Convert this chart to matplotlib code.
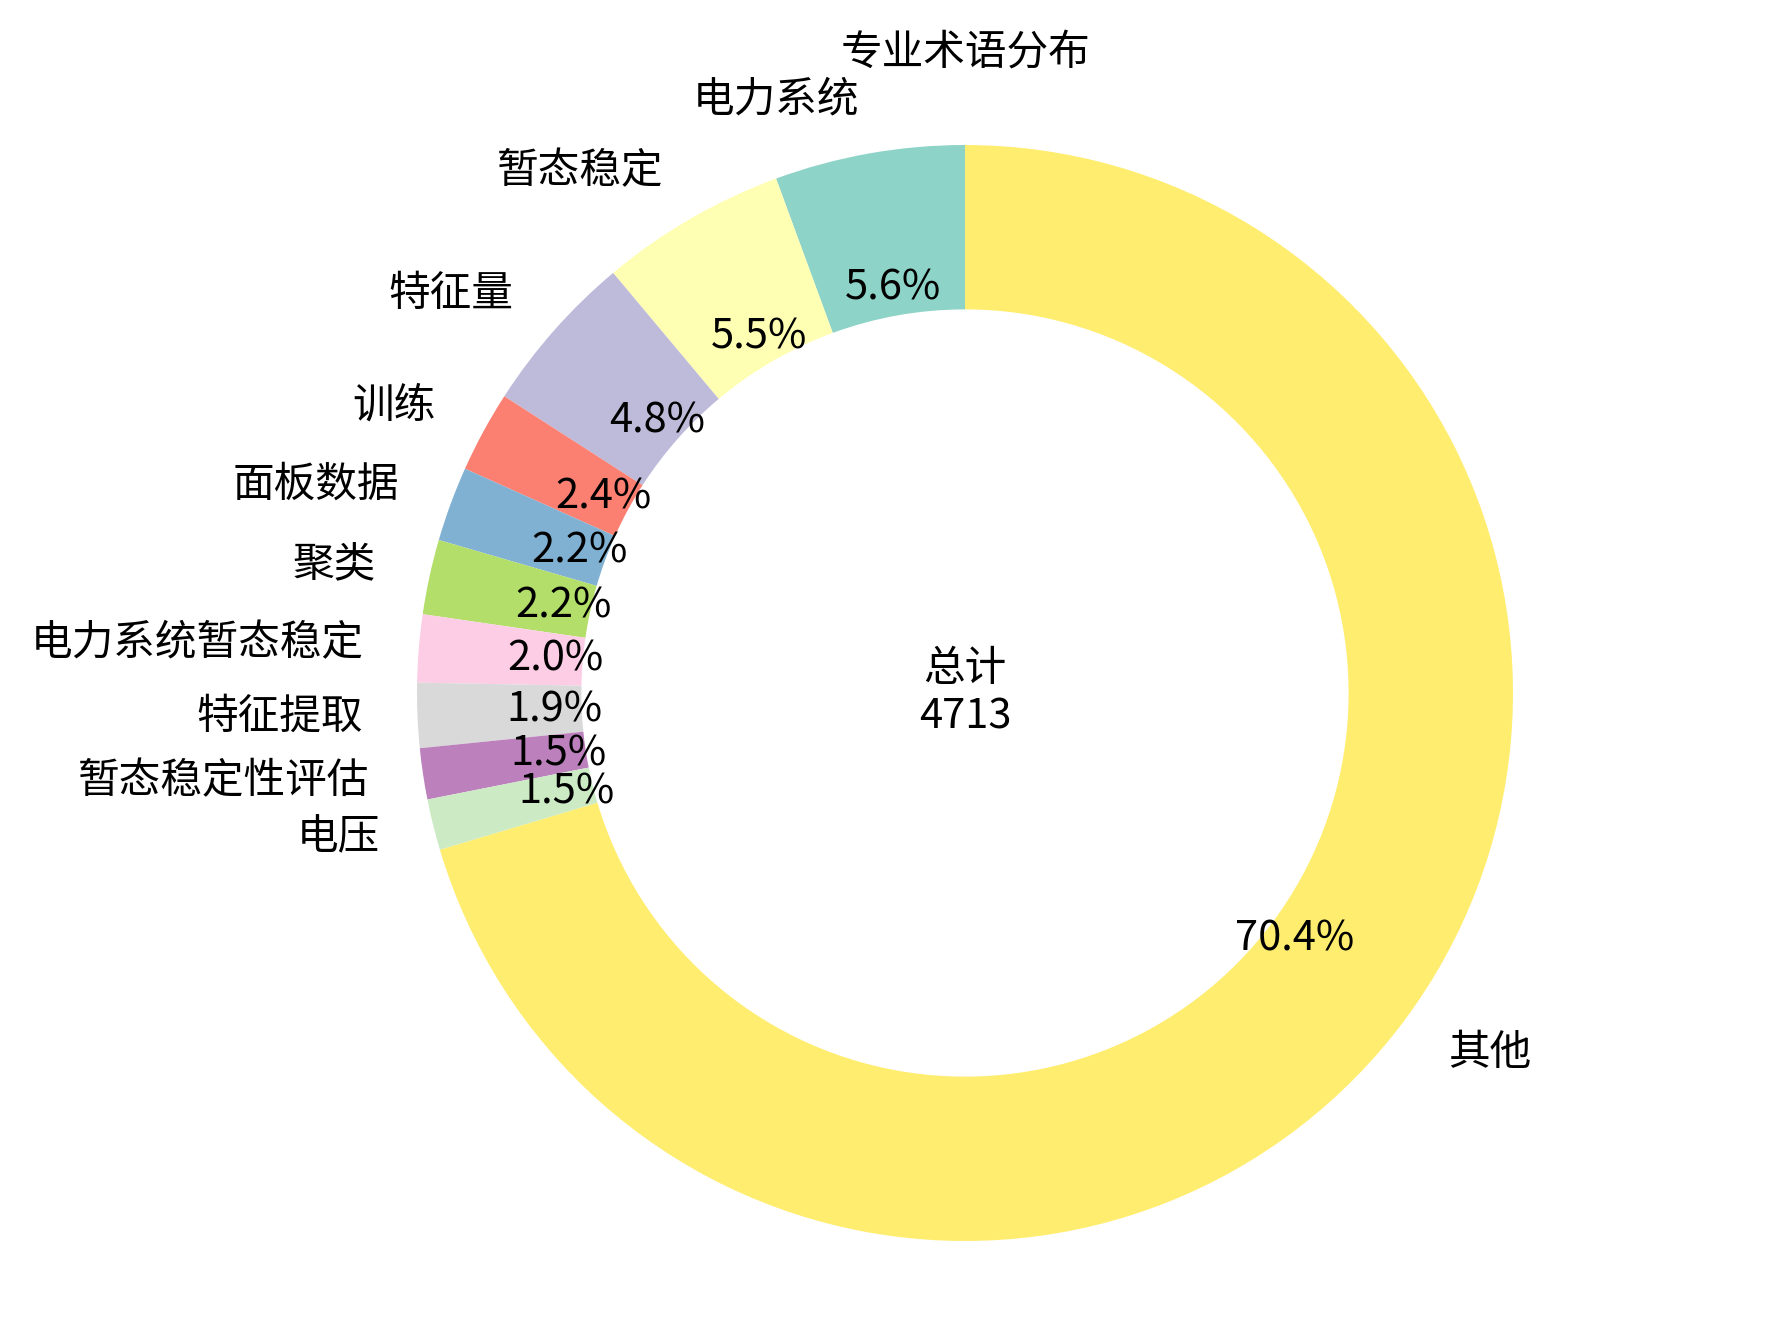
import numpy as np
import matplotlib
matplotlib.use('Agg')
from matplotlib import pyplot as plt

plt.rcParams['font.family'] = ['Noto Sans CJK SC', 'DejaVu Sans']

# 术语及出现次数
terms = ['电力系统', '暂态稳定', '特征量', '训练', '面板数据', '聚类',
         '电力系统暂态稳定', '特征提取', '暂态稳定性评估', '电压', '其他']
counts = [264, 259, 226, 113, 104, 104, 94, 90, 71, 71, 3317]

total = sum(counts)
colors = plt.cm.Set3(np.linspace(0, 1, len(counts)))

W, H, DPI = 1777, 1326, 100
fig = plt.figure(figsize=(W / DPI, H / DPI), dpi=DPI)

# 圆心与半径(像素)
cx, cy, r = 965, 693, 548
side = 2.5 * r
ax = fig.add_axes([(cx - side / 2) / W, (H - cy - side / 2) / H, side / W, side / H])

fs = 30
wedges, texts, autotexts = ax.pie(
    counts,
    labels=terms,
    colors=colors,
    autopct='%1.1f%%',
    startangle=90,
    pctdistance=0.75,
    labeldistance=1.1,
    wedgeprops=dict(width=0.3),
    textprops=dict(fontsize=fs),
)
ax.set_xlim(-1.25, 1.25)
ax.set_ylim(-1.25, 1.25)
ax.set_aspect('equal')

ax.text(0, 0, f'总计\n{total}', ha='center', va='center', fontsize=fs)

fig.text(cx / W, 1 - 53 / H, '专业术语分布', ha='center', va='center', fontsize=fs)

fig.savefig('out.png', dpi=DPI)
